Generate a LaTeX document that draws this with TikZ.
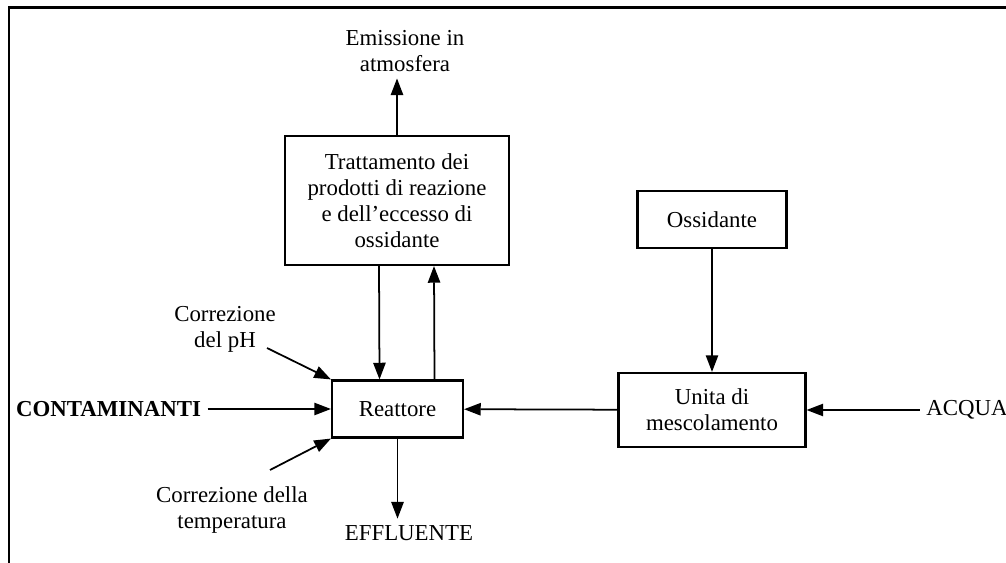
\documentclass[tikz,border=0pt]{standalone}
\usepackage{fontspec}
\setmainfont{Liberation Serif}
\usetikzlibrary{arrows.meta}

\begin{document}
\begin{tikzpicture}[x=0.02cm, y=-0.02cm, ->, >={Triangle[length=9.5pt,width=7pt]}, line width=1pt,
        box node/.style={rectangle, draw, line width=1.2pt, align=center, font=\fontsize{13}{14.8}\selectfont},
        text node/.style={align=center, font=\fontsize{13}{14.8}\selectfont}]
    \useasboundingbox (0,0) rectangle (1006,563);

    % Cornice
    \draw[-, line width=1.3pt] (9,563) -- (9,7.5) -- (1006,7.5);

    % Blocchi
    \node[box node, minimum width=4.48cm, minimum height=2.58cm] (tratt) at (397,200.5) {Trattamento dei\\prodotti di reazione\\e dell'eccesso di\\ossidante};
    \node[box node, minimum width=2.62cm, minimum height=1.14cm] (reatt) at (397.5,409) {Reattore};
    \node[box node, minimum width=2.98cm, minimum height=1.14cm] (ossid) at (712,219.5) {Ossidante};
    \node[box node, minimum width=3.74cm, minimum height=1.48cm] (unita) at (712,410) {Unita di\\mescolamento};

    % Etichette
    \node[text node] (emiss) at (405,51) {Emissione in\\atmosfera};
    \node[text node] (ph) at (225,329) {Correzione\\del pH};
    \node[text node] (temp) at (232,510) {Correzione della\\temperatura};
    \node[text node] (effl) at (409,533) {EFFLUENTE};
    \node[text node, font=\fontsize{13}{14.8}\selectfont\bfseries] (contam) at (108.5,409) {CONTAMINANTI};
    \node[text node] (acqua) at (967,410) {ACQUA};
    \coordinate (phstart) at (267,348);
    \coordinate (tempstart) at (270,470);

    % Collegamenti
    \path (tratt.north) edge[] (tratt.north |- emiss.south);
    \path ([xshift=-0.36cm]tratt.south) edge[] ([xshift=-0.36cm]reatt.north);
    \path ([xshift=0.74cm]reatt.north) edge[] ([xshift=0.74cm]tratt.south);
    \path (contam) edge[] (reatt);
    \path (phstart) edge[] (reatt.north west);
    \path (tempstart) edge[] (reatt.south west);
    \path (reatt.south) edge[] (reatt.south |- effl.north);
    \path (ossid) edge[] (unita);
    \path (unita) edge[] (reatt);
    \path (acqua) edge[] (unita);
\end{tikzpicture}
\end{document}
